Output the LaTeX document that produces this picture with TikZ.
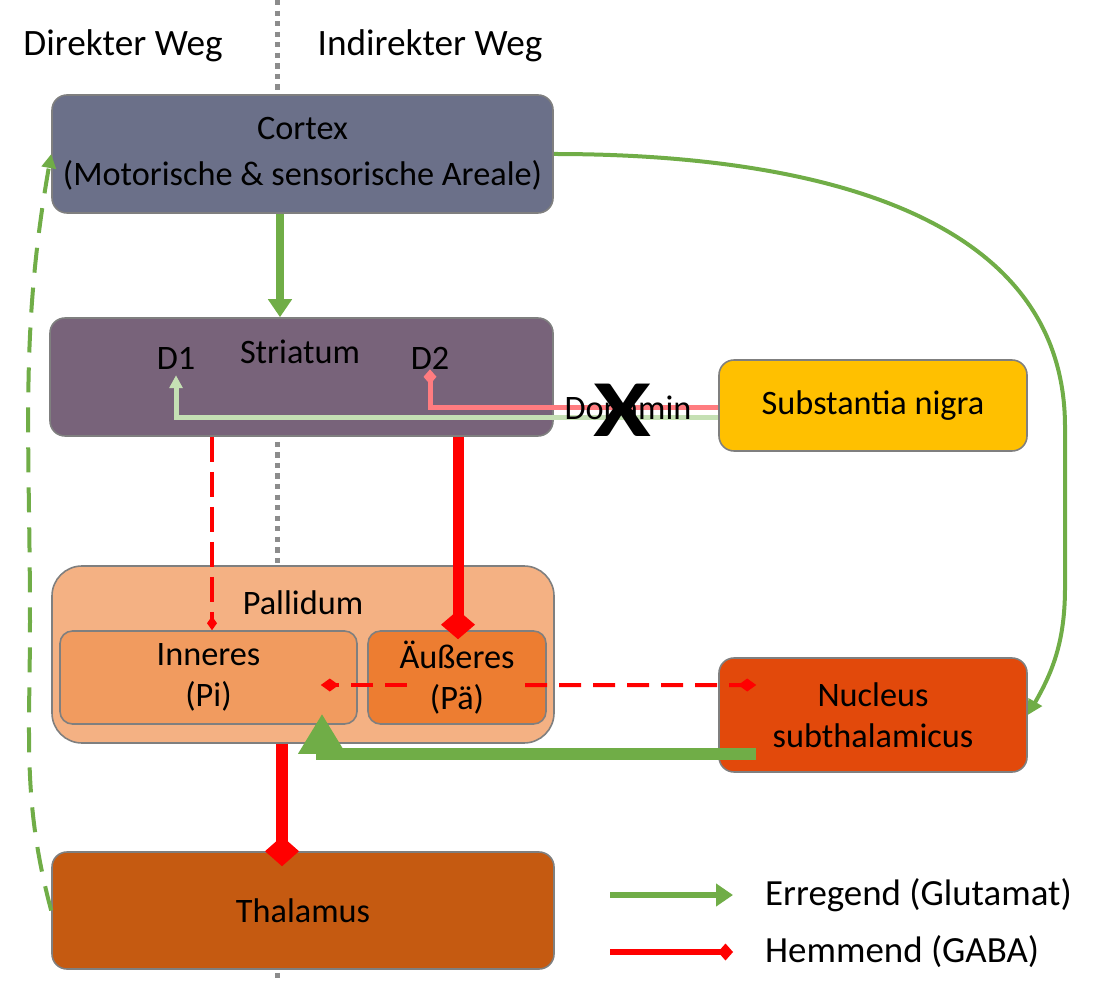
\documentclass[tikz,border=0pt]{standalone}
\usepackage{fontspec}
\setmainfont{Carlito}
\usepackage{graphicx}
\usetikzlibrary{arrows.meta, calc}

\definecolor{cortexgrau}{HTML}{6B7089}
\definecolor{striatumlila}{HTML}{78637A}
\definecolor{nigragelb}{HTML}{FFC000}
\definecolor{pallidumhell}{HTML}{F4B183}
\definecolor{innenorange}{HTML}{F19B5F}
\definecolor{aussenorange}{HTML}{ED7D31}
\definecolor{stnrot}{HTML}{E2490B}
\definecolor{thalbraun}{HTML}{C55A11}
\definecolor{randgrau}{HTML}{7F7F7F}
\definecolor{trenngrau}{HTML}{8C8C8C}
\definecolor{glugruen}{HTML}{70AD47}
\definecolor{hellgruen}{HTML}{C5E0B4}
\definecolor{gabarot}{HTML}{FF0000}
\definecolor{hellrot}{HTML}{FF7C80}

\tikzset{
  kern/.style={draw=randgrau, line width=0.9pt, rounded corners=0.3cm, align=center, inner sep=0pt},
  trenn/.style={trenngrau, line width=2.8pt, dash pattern=on 3pt off 3pt},
  erreg/.style={draw=glugruen},
  hemm/.style={draw=gabarot}
}

\begin{document}
\begin{tikzpicture}[font=\fontsize{19.5}{23.5}\selectfont]
  \useasboundingbox (0,0) rectangle (21.98,19.94);
  \node[font=\fontsize{21.2}{25}\selectfont] (direkt) at (2.46,19.02) {Direkter Weg};
  \node[font=\fontsize{21.2}{25}\selectfont] (indirekt) at (8.60,19.02) {Indirekter Weg};
  % Kerne
  \node[kern, fill=cortexgrau, minimum width=10.02cm, minimum height=2.36cm, font=\fontsize{19.5}{26}\selectfont] (cortex) at (6.05,16.86) {Cortex\\(Motorische \& sensorische Areale)};
  \node[kern, fill=striatumlila, minimum width=10.06cm, minimum height=2.36cm] (striatum) at (6.03,12.40) {};
  \node (striatumtxt) at (6.00,12.90) {Striatum};
  \node (d1) at (3.52,12.78) {D1};
  \node (d2) at (8.60,12.78) {D2};
  \node[kern, fill=nigragelb, minimum width=6.16cm, minimum height=1.82cm] (nigra) at (17.46,11.83) {Substantia nigra};
  \node[kern, fill=pallidumhell, rounded corners=0.6cm, minimum width=10.04cm, minimum height=3.54cm] (pallidum) at (6.06,6.85) {};
  \node (pallidumtxt) at (6.06,7.88) {Pallidum};
  \node[kern, fill=innenorange, rounded corners=0.25cm, minimum width=5.94cm, minimum height=1.86cm] (pi) at (4.17,6.39) {Inneres\\(Pi)};
  \node[kern, fill=aussenorange, rounded corners=0.25cm, minimum width=3.56cm, minimum height=1.86cm] (pae) at (9.14,6.39) {Äußeres\\(Pä)};
  \node[kern, fill=stnrot, minimum width=6.16cm, minimum height=2.28cm] (stn) at (17.46,5.64) {Nucleus\\subthalamicus};
  \node[kern, fill=thalbraun, minimum width=10.04cm, minimum height=2.34cm] (thal) at (6.06,1.73) {Thalamus};
  % Trennlinie direkter / indirekter Weg
  \draw[trenn] (5.55,19.94) -- (5.55,0 |- cortex.north);
  \draw[trenn] ($(5.55,0 |- striatum.south)+(0,-0.1)$) -- (5.55,0 |- pallidum.north);
  \draw[trenn] ($(5.55,0 |- thal.south)+(0,-0.06)$) -- (5.55,0.35);
  % Dopamin aus der Substantia nigra
  \draw[draw=hellgruen, line width=0.1cm, -{Triangle[length=0.26cm,width=0.26cm]}] ($(nigra.west)+(0,-0.25)$) -| (d1.south);
  \draw[draw=hellrot, line width=0.1cm, -{Diamond[length=0.3cm,width=0.26cm]}] ($(nigra.west)+(0,-0.05)$) -| ($(d2.south)+(0,0.12)$);
  \node (dopamin) at (12.56,11.74) {Dopamin};
  \node[font=\fontsize{46}{46}\selectfont\bfseries] (blockade) at (12.44,11.74) {\scalebox{1.3}[1]{X}};
  % direkter Weg
  \draw[erreg, line width=0.16cm, -{Triangle[length=0.36cm,width=0.46cm]}] (5.60,0 |- cortex.south) -- (5.60,0 |- striatum.north);
  \draw[hemm, line width=0.07cm, dash pattern=on 0.5cm off 0.2cm, -{Diamond[length=0.28cm,width=0.2cm]}] (4.24,0 |- striatum.south) -- (4.24,0 |- pi.north);
  \draw[hemm, line width=0.24cm, -{Diamond[length=0.6cm,width=0.68cm]}] (5.64,0 |- pallidum.south) -- ($(5.64,0 |- thal.north)+(0,-0.3)$);
  \draw[erreg, line width=0.08cm, dash pattern=on 0.5cm off 0.3cm, -{Triangle[length=0.28cm,width=0.28cm]}] (thal.west) to[out=105, in=-90] (0.6,7.5) to[out=90, in=-100] (cortex.west);
  % indirekter Weg
  \draw[hemm, line width=0.22cm, -{Diamond[length=0.58cm,width=0.68cm]}] (9.16,0 |- striatum.south) -- ($(9.16,0 |- pae.north)+(0,-0.18)$);
  \draw[hemm, line width=0.08cm, dash pattern=on 0.44cm off 0.24cm, -{Diamond[length=0.36cm,width=0.26cm]}] ($(pae.center)+(-1.0,-0.15)$) -- ($(pi.east)+(-0.74,-0.15)$);
  \draw[hemm, line width=0.08cm, dash pattern=on 0.44cm off 0.24cm, -{Diamond[length=0.36cm,width=0.26cm]}] ($(pae.center)+(1.36,-0.15)$) -- ($(stn.west)+(0.76,0.60)$);
  \draw[erreg, line width=0.08cm, -{Triangle[length=0.3cm,width=0.3cm]}] (cortex.east) to[out=0, in=90] (21.3,11.4) -- (21.3,8.2) to[out=-90, in=60] (stn.east);
  \draw[erreg, line width=0.24cm, -{Triangle[length=0.8cm,width=0.9cm]}] ($(stn.west)+(0.76,-0.78)$) -| ($(6.44,0 |- pi.south)+(0,0.22)$);
  % Legende
  \coordinate (legA1) at (12.20,2.04);
  \coordinate (legA2) at (14.66,2.04);
  \coordinate (legB1) at (12.20,0.90);
  \coordinate (legB2) at (14.66,0.90);
  \draw[erreg, line width=0.12cm, -{Triangle[length=0.34cm,width=0.44cm]}] (legA1) -- (legA2);
  \draw[hemm, line width=0.12cm, -{Diamond[length=0.3cm,width=0.34cm]}] (legB1) -- (legB2);
  \node[anchor=west, font=\fontsize{21}{25}\selectfont] (legtxtA) at (15.18,2.04) {Erregend (Glutamat)};
  \node[anchor=west, font=\fontsize{21}{25}\selectfont] (legtxtB) at (15.18,0.90) {Hemmend (GABA)};
\end{tikzpicture}
\end{document}
